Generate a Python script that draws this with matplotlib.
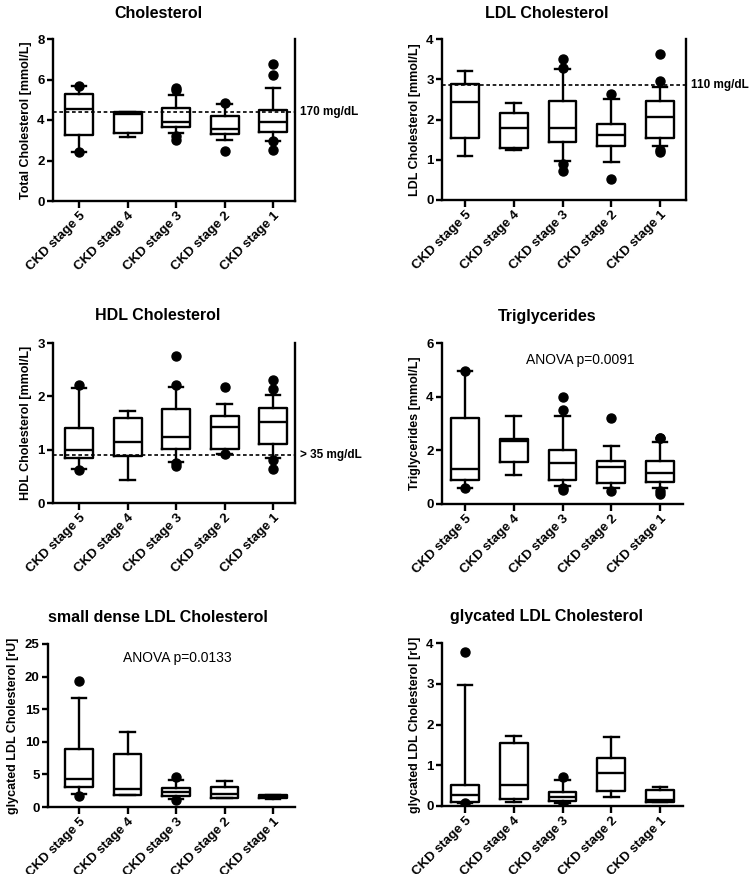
import matplotlib
matplotlib.use('Agg')
import matplotlib.pyplot as plt

plt.rcParams['font.family'] = ['Liberation Sans', 'DejaVu Sans']
plt.rcParams['font.weight'] = 'bold'

stages = ['CKD stage 5', 'CKD stage 4', 'CKD stage 3', 'CKD stage 2', 'CKD stage 1']

# each row: whisker low, q1, median, q3, whisker high
chol_box = [[2.44, 3.27, 4.52, 5.28, 5.69],
            [3.15, 3.38, 4.31, 4.39, 4.39],
            [3.35, 3.65, 3.89, 4.59, 5.25],
            [2.99, 3.32, 3.55, 4.21, 4.77],
            [2.97, 3.42, 3.89, 4.50, 5.59]]
chol_out = [[5.69, 2.41], [], [5.58, 5.50, 3.02, 3.22], [4.83, 2.49], [6.77, 6.24, 2.52, 2.97]]

ldl_box = [[1.10, 1.54, 2.44, 2.89, 3.20],
           [1.24, 1.29, 1.80, 2.15, 2.40],
           [0.97, 1.45, 1.78, 2.45, 3.26],
           [0.94, 1.34, 1.62, 1.88, 2.51],
           [1.33, 1.54, 2.07, 2.45, 2.80]]
ldl_out = [[], [], [3.51, 3.28, 0.73, 0.90], [2.64, 0.51], [3.63, 2.96, 1.19, 1.23]]

hdl_box = [[0.64, 0.85, 1.00, 1.41, 2.16],
           [0.44, 0.89, 1.15, 1.60, 1.73],
           [0.77, 1.01, 1.24, 1.77, 2.17],
           [0.92, 1.01, 1.43, 1.64, 1.85],
           [0.84, 1.11, 1.51, 1.79, 2.02]]
hdl_out = [[2.21, 0.62], [], [2.76, 2.21, 0.70, 0.75], [2.17, 0.91], [2.30, 2.13, 0.64, 0.81]]

tg_box = [[0.60, 0.91, 1.32, 3.20, 4.94],
          [1.09, 1.55, 2.34, 2.42, 3.29],
          [0.66, 0.88, 1.53, 2.02, 3.29],
          [0.60, 0.78, 1.37, 1.61, 2.17],
          [0.60, 0.81, 1.16, 1.61, 2.30]]
tg_out = [[4.97, 0.60], [], [3.98, 3.52, 0.53, 0.60], [3.20, 0.47], [2.46, 2.46, 0.39, 0.47]]

sd_box = [[2.05, 3.08, 4.36, 8.83, 16.7],
          [1.80, 1.90, 2.82, 8.16, 11.55],
          [1.28, 1.64, 2.31, 2.98, 4.10],
          [1.35, 1.40, 2.07, 3.02, 3.99],
          [1.30, 1.35, 1.60, 1.85, 1.90]]
sd_out = [[19.25, 1.64], [], [4.60, 1.13], [], []]

gly_box = [[0.07, 0.10, 0.26, 0.51, 2.97],
           [0.10, 0.16, 0.51, 1.55, 1.72],
           [0.07, 0.12, 0.22, 0.34, 0.63],
           [0.22, 0.37, 0.81, 1.18, 1.70],
           [0.09, 0.10, 0.15, 0.39, 0.46]]
gly_out = [[3.78, 0.07], [], [0.71, 0.02], [], []]

W, H = 750, 874
lw = 1.7


def make_panel(rect, box, out, title, title_xy, ylabel, ymax, yticks, xlim,
               right_spine=False, ref=None, ref_label=None, note=None, note_xy=None):
    ax = fig.add_axes([rect[0] / W, 1 - rect[3] / H, (rect[2] - rect[0]) / W, (rect[3] - rect[1]) / H])
    stats = []
    for b, o in zip(box, out):
        stats.append(dict(whislo=b[0], q1=b[1], med=b[2], q3=b[3], whishi=b[4], fliers=o))
    kw = dict(color='k', linewidth=lw)
    ax.bxp(stats, positions=range(1, 6), widths=0.57, capwidths=0.3,
           boxprops=kw, whiskerprops=kw, capprops=kw,
           medianprops=dict(color='k', linewidth=lw),
           flierprops=dict(marker='o', markerfacecolor='k', markeredgecolor='k', markersize=6.5))
    if ref is not None:
        ax.axhline(ref, color='k', linestyle=(0, (2.2, 1.6)), linewidth=1.2)
        ax.annotate(ref_label, xy=(1, ref), xycoords=('axes fraction', 'data'),
                    xytext=(3.5, 0), textcoords='offset points',
                    ha='left', va='center', fontsize=8.5, fontweight='bold')
    if note:
        fig.text(note_xy[0] / W, 1 - note_xy[1] / H, note, ha='center', va='center',
                 fontsize=10, fontweight='normal')
    ax.set_xlim(*xlim)
    ax.set_ylim(0, ymax)
    ax.set_yticks(yticks)
    ax.set_xticks(range(1, 6))
    ax.set_xticklabels(stages, rotation=45, ha='right', rotation_mode='anchor')
    ax.tick_params(axis='both', width=lw, length=4, labelsize=9.5, pad=2)
    ax.tick_params(axis='x', length=5, pad=1.5)
    for s in ['left', 'bottom', 'right']:
        ax.spines[s].set_linewidth(lw)
    ax.spines['top'].set_visible(False)
    ax.spines['right'].set_visible(right_spine)
    ax.set_ylabel(ylabel, fontsize=9, fontweight='bold', labelpad=4)
    fig.text(title_xy[0] / W, 1 - title_xy[1] / H, title, ha='center', va='center',
             fontsize=11.5, fontweight='bold')
    return ax


fig = plt.figure(figsize=(W / 100, H / 100), dpi=100)

make_panel((53, 39, 295, 201), chol_box, chol_out, 'Cholesterol', (158, 13),
           'Total Cholesterol [mmol/L]', 8, [0, 2, 4, 6, 8], (0.46, 5.45),
           right_spine=True, ref=4.40, ref_label='170 mg/dL')
make_panel((442, 39, 686, 200), ldl_box, ldl_out, 'LDL Cholesterol', (547, 13),
           'LDL Cholesterol [mmol/L]', 4, [0, 1, 2, 3, 4], (0.53, 5.53),
           right_spine=True, ref=2.845, ref_label='110 mg/dL')
make_panel((53, 343, 295, 503), hdl_box, hdl_out, 'HDL Cholesterol', (158, 315),
           'HDL Cholesterol [mmol/L]', 3, [0, 1, 2, 3], (0.46, 5.45),
           right_spine=True, ref=0.905, ref_label='> 35 mg/dL')
make_panel((442, 343, 683, 504), tg_box, tg_out, 'Triglycerides', (547, 316),
           'Triglycerides [mmol/L]', 6, [0, 2, 4, 6], (0.53, 5.47),
           note='ANOVA p=0.0091', note_xy=(580, 360))
make_panel((48, 644, 295, 807), sd_box, sd_out, 'small dense LDL Cholesterol', (158, 618),
           'glycated LDL Cholesterol [rU]', 25, [0, 5, 10, 15, 20, 25], (0.36, 5.45),
           note='ANOVA p=0.0133', note_xy=(177, 658))
make_panel((442, 643, 683, 806), gly_box, gly_out, 'glycated LDL Cholesterol', (547, 617),
           'glycated LDL Cholesterol [rU]', 4, [0, 1, 2, 3, 4], (0.53, 5.47))

fig.savefig('out.png', dpi=100)
